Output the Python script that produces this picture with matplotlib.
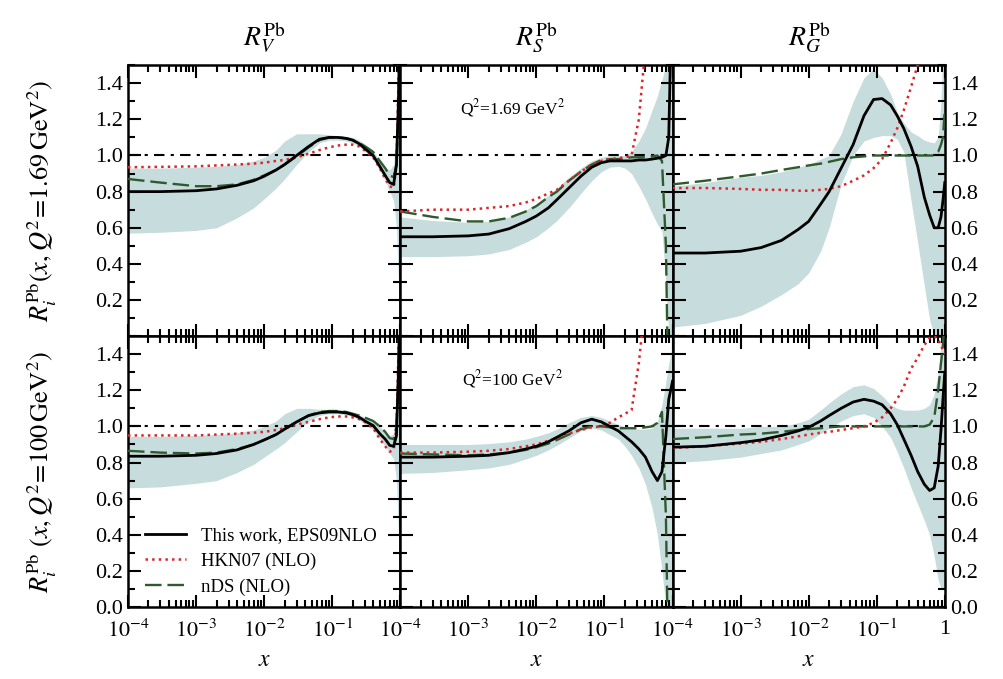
# EPS09 nuclear modification ratios for Pb, comparison with HKN07 and nDS
import numpy as np
import matplotlib
matplotlib.use("Agg")
import matplotlib.pyplot as plt
from matplotlib.ticker import FixedLocator, MultipleLocator, NullFormatter

plt.rcParams['font.family'] = 'serif'
plt.rcParams['font.serif'] = ['Liberation Serif', 'DejaVu Serif']
plt.rcParams['mathtext.fontset'] = 'stix'

x = np.array([1e-4, 3e-4, 1e-3, 2e-3, 4e-3, 7e-3, 0.01, 0.015, 0.02, 0.03, 0.045,
              0.065, 0.09, 0.12, 0.16, 0.2, 0.25, 0.32, 0.4, 0.5, 0.6, 0.7,
              0.8, 0.88, 0.94, 1.0])

titles = [r'$R_V^{\rm Pb}$', r'$R_S^{\rm Pb}$', r'$R_G^{\rm Pb}$']
ylabels = [r'$R_i^{\rm Pb}(x,Q^2\!=\!1.69\,{\rm GeV}^2)$',
           r'$R_i^{\rm Pb}\ (x,Q^2\!=\!100\,{\rm GeV}^2)$']
q2_labels = [r'Q$^2$=1.69 GeV$^2$', r'Q$^2$=100 GeV$^2$']
legend_labels = ['This work, EPS09NLO', 'HKN07 (NLO)', 'nDS (NLO)']

# ---- Q^2 = 1.69 GeV^2 ----
eps_v1 = [0.80, 0.80, 0.805, 0.815, 0.835, 0.86, 0.885, 0.92, 0.95, 1.00, 1.05, 1.09,
          1.10, 1.10, 1.095, 1.085, 1.065, 1.03, 1.0, 0.94, 0.89, 0.85, 0.84, 0.95, 1.3, 1.8]
hkn_v1 = [0.935, 0.937, 0.94, 0.945, 0.95, 0.955, 0.96, 0.97, 0.975, 0.99, 1.01, 1.03,
          1.045, 1.055, 1.06, 1.06, 1.05, 1.02, 0.99, 0.93, 0.87, 0.83, 0.82, 0.95, 1.4, 2.0]
nds_v1 = [0.87, 0.85, 0.83, 0.83, 0.84, 0.865, 0.89, 0.92, 0.95, 0.995, 1.045, 1.085,
          1.10, 1.10, 1.095, 1.085, 1.07, 1.045, 1.02, 0.97, 0.93, 0.89, 0.88, 0.95, 1.25, 1.8]
lo_v1 = [0.57, 0.575, 0.585, 0.60, 0.655, 0.71, 0.76, 0.82, 0.87, 0.95, 1.02, 1.07,
         1.085, 1.085, 1.08, 1.07, 1.05, 1.015, 0.98, 0.92, 0.86, 0.80, 0.75, 0.6, 0.3, 0.0]
hi_v1 = [0.93, 0.93, 0.935, 0.94, 0.95, 0.97, 0.99, 1.03, 1.08, 1.12, 1.12, 1.12,
         1.115, 1.11, 1.105, 1.10, 1.085, 1.055, 1.025, 0.97, 0.93, 0.92, 0.95, 1.2, 1.6, 2.0]

eps_s1 = [0.55, 0.55, 0.555, 0.565, 0.595, 0.635, 0.665, 0.71, 0.755, 0.82, 0.885, 0.935,
          0.96, 0.97, 0.97, 0.97, 0.97, 0.975, 0.975, 0.98, 0.985, 0.99, 1.0, 1.1, 1.6, 2.0]
hkn_s1 = [0.69, 0.70, 0.70, 0.71, 0.72, 0.74, 0.76, 0.79, 0.81, 0.86, 0.91, 0.95,
          0.97, 0.98, 0.985, 0.99, 1.0, 1.2, 1.6, 2.0, 2.0, 2.0, 2.0, 2.0, 2.0, 2.0]
nds_s1 = [0.69, 0.66, 0.635, 0.635, 0.655, 0.69, 0.72, 0.77, 0.80, 0.86, 0.91, 0.95,
          0.975, 0.98, 0.98, 0.985, 0.99, 0.99, 0.99, 0.995, 1.0, 0.97, 0.5, -0.5, -0.5, -0.5]
lo_s1 = [0.44, 0.44, 0.445, 0.455, 0.48, 0.52, 0.55, 0.60, 0.64, 0.71, 0.79, 0.86,
         0.91, 0.935, 0.94, 0.93, 0.90, 0.83, 0.76, 0.68, 0.62, 0.58, 0.3, 0.0, 0.0, 0.0]
hi_s1 = [0.66, 0.64, 0.63, 0.635, 0.66, 0.70, 0.73, 0.78, 0.82, 0.88, 0.93, 0.97,
         0.99, 1.0, 1.0, 1.0, 1.02, 1.08, 1.15, 1.25, 1.33, 1.42, 1.5, 1.6, 1.6, 1.6]

eps_g1 = [0.46, 0.46, 0.47, 0.49, 0.53, 0.59, 0.635, 0.73, 0.80, 0.93, 1.06, 1.22,
          1.31, 1.315, 1.28, 1.22, 1.15, 1.05, 0.94, 0.77, 0.67, 0.60, 0.60, 0.66, 0.75, 0.85]
hkn_g1 = [0.82, 0.82, 0.815, 0.81, 0.81, 0.805, 0.805, 0.81, 0.815, 0.83, 0.86, 0.89,
          0.93, 0.98, 1.07, 1.15, 1.25, 1.38, 1.5, 1.7, 2.0, 2.0, 2.0, 2.0, 2.0, 2.0]
nds_g1 = [0.84, 0.86, 0.885, 0.90, 0.92, 0.935, 0.945, 0.955, 0.965, 0.98, 0.99, 0.995,
          1.0, 1.0, 1.0, 1.0, 1.0, 1.0, 1.0, 1.0, 1.0, 1.0, 1.02, 1.06, 1.1, 1.25]
lo_g1 = [0.05, 0.07, 0.115, 0.165, 0.23, 0.29, 0.35, 0.47, 0.60, 0.84, 1.00, 1.08,
         1.10, 1.11, 1.11, 1.09, 1.02, 0.75, 0.52, 0.28, 0.09, 0.0, 0.0, 0.0, 0.0, 0.0]
hi_g1 = [0.83, 0.85, 0.88, 0.89, 0.91, 0.935, 0.95, 0.98, 1.0, 1.12, 1.30, 1.43,
         1.48, 1.43, 1.34, 1.24, 1.18, 1.13, 1.11, 1.085, 1.075, 1.07, 1.1, 1.3, 1.6, 1.8]

# ---- Q^2 = 100 GeV^2 ----
eps_v2 = [0.835, 0.835, 0.84, 0.85, 0.87, 0.90, 0.925, 0.955, 0.985, 1.025, 1.06, 1.075,
          1.08, 1.08, 1.075, 1.065, 1.05, 1.025, 1.005, 0.96, 0.93, 0.895, 0.89, 0.95, 1.3, 1.8]
hkn_v2 = [0.95, 0.95, 0.95, 0.955, 0.96, 0.965, 0.97, 0.98, 0.99, 1.01, 1.025, 1.04,
          1.05, 1.055, 1.055, 1.05, 1.04, 1.02, 0.99, 0.93, 0.89, 0.86, 0.87, 1.0, 1.4, 2.0]
nds_v2 = [0.865, 0.855, 0.85, 0.855, 0.875, 0.90, 0.925, 0.955, 0.985, 1.025, 1.06, 1.08,
          1.085, 1.085, 1.08, 1.07, 1.06, 1.045, 1.03, 1.0, 0.97, 0.935, 0.93, 1.0, 1.3, 1.8]
lo_v2 = [0.66, 0.665, 0.685, 0.70, 0.745, 0.79, 0.83, 0.875, 0.91, 0.97, 1.03, 1.06,
         1.07, 1.07, 1.065, 1.055, 1.035, 1.005, 0.98, 0.93, 0.89, 0.85, 0.82, 0.7, 0.4, 0.0]
hi_v2 = [0.945, 0.945, 0.95, 0.955, 0.965, 0.98, 1.0, 1.03, 1.07, 1.10, 1.10, 1.095,
         1.095, 1.095, 1.09, 1.08, 1.065, 1.045, 1.03, 1.0, 0.97, 0.95, 0.96, 1.15, 1.5, 1.8]

eps_s2 = [0.83, 0.83, 0.835, 0.84, 0.855, 0.875, 0.89, 0.915, 0.94, 0.975, 1.02, 1.04,
          1.025, 1.0, 0.975, 0.945, 0.915, 0.875, 0.83, 0.75, 0.70, 0.75, 0.95, 1.15, 1.2, 1.25]
hkn_s2 = [0.855, 0.855, 0.86, 0.865, 0.875, 0.89, 0.90, 0.92, 0.935, 0.96, 0.98, 0.995,
          1.0, 1.02, 1.05, 1.07, 1.09, 1.35, 1.7, 2.0, 2.0, 2.0, 2.0, 2.0, 2.0, 2.0]
nds_s2 = [0.85, 0.845, 0.84, 0.845, 0.855, 0.87, 0.885, 0.905, 0.925, 0.955, 0.985, 1.0,
          1.0, 0.995, 0.99, 0.99, 0.99, 0.99, 0.995, 1.0, 1.02, 1.08, 0.5, -0.5, -0.5, -0.5]
lo_s2 = [0.74, 0.745, 0.76, 0.77, 0.79, 0.82, 0.84, 0.87, 0.895, 0.935, 0.975, 0.99,
         0.98, 0.955, 0.93, 0.89, 0.84, 0.77, 0.68, 0.55, 0.40, 0.2, 0.0, 0.0, 0.0, 0.0]
hi_s2 = [0.90, 0.90, 0.90, 0.905, 0.915, 0.93, 0.945, 0.965, 0.985, 1.02, 1.05, 1.06,
         1.05, 1.03, 1.01, 1.0, 0.99, 0.985, 0.985, 0.99, 1.03, 1.12, 1.25, 1.35, 1.4, 1.5]

eps_g2 = [0.885, 0.89, 0.91, 0.925, 0.95, 0.975, 0.995, 1.03, 1.06, 1.10, 1.135, 1.15,
          1.14, 1.12, 1.07, 1.01, 0.93, 0.84, 0.75, 0.68, 0.645, 0.66, 0.78, 0.98, 1.15, 1.3]
hkn_g2 = [0.88, 0.89, 0.905, 0.915, 0.93, 0.945, 0.955, 0.965, 0.97, 0.98, 0.99, 1.0,
          1.02, 1.05, 1.10, 1.15, 1.22, 1.32, 1.38, 1.45, 1.49, 1.5, 1.48, 1.45, 1.42, 1.4]
nds_g2 = [0.93, 0.94, 0.955, 0.96, 0.97, 0.98, 0.985, 0.99, 0.995, 1.0, 1.0, 1.0,
          1.0, 1.0, 1.0, 1.0, 1.0, 1.0, 1.0, 1.0, 1.01, 1.05, 1.2, 1.35, 1.45, 1.6]
lo_g2 = [0.80, 0.81, 0.83, 0.85, 0.87, 0.90, 0.92, 0.96, 0.99, 1.03, 1.06, 1.07,
         1.05, 1.0, 0.94, 0.86, 0.77, 0.66, 0.57, 0.48, 0.40, 0.28, 0.15, 0.1, 0.1, 0.1]
hi_g2 = [0.99, 0.99, 0.99, 1.0, 1.0, 1.02, 1.04, 1.09, 1.13, 1.18, 1.22, 1.23,
         1.21, 1.17, 1.12, 1.10, 1.09, 1.09, 1.09, 1.10, 1.12, 1.18, 1.3, 1.45, 1.5, 1.5]

panels = [
    [(eps_v1, hkn_v1, nds_v1, lo_v1, hi_v1),
     (eps_s1, hkn_s1, nds_s1, lo_s1, hi_s1),
     (eps_g1, hkn_g1, nds_g1, lo_g1, hi_g1)],
    [(eps_v2, hkn_v2, nds_v2, lo_v2, hi_v2),
     (eps_s2, hkn_s2, nds_s2, lo_s2, hi_s2),
     (eps_g2, hkn_g2, nds_g2, lo_g2, hi_g2)],
]

band_color = '#c7dcdc'
red = '#d9262b'
green = '#2f5a2f'

fig, axes = plt.subplots(2, 3, figsize=(10.04, 6.79), dpi=100)
fig.subplots_adjust(left=0.1275, right=0.941, top=0.904, bottom=0.106,
                    wspace=0, hspace=0)

xticks = [1e-4, 1e-3, 1e-2, 1e-1, 1]
xticklabels = [r'$10^{-4}$', r'$10^{-3}$', r'$10^{-2}$', r'$10^{-1}$', '1']
minor_x = [m * 10.0**e for e in range(-4, 0) for m in range(2, 10)]

for r in range(2):
    for c in range(3):
        ax = axes[r, c]
        eps, hkn, nds, lo, hi = panels[r][c]
        ax.fill_between(x, lo, hi, color=band_color, lw=0, zorder=1)
        ax.axhline(1.0, color='black', lw=1.5, ls=(0, (5, 3, 1.5, 3)), zorder=2)
        ax.plot(x, nds, color=green, lw=1.7, ls=(0, (7, 2.5)), zorder=3, label=legend_labels[2])
        ax.plot(x, hkn, color=red, lw=1.8, ls=':', zorder=4, label=legend_labels[1])
        ax.plot(x, eps, color='black', lw=2.0, zorder=5, label=legend_labels[0])

        ax.set_xscale('log')
        ax.set_xlim(1e-4, 1)
        ax.set_ylim(0, 1.5)

        ax.xaxis.set_major_locator(FixedLocator(xticks))
        ax.xaxis.set_minor_locator(FixedLocator(minor_x))
        ax.xaxis.set_minor_formatter(NullFormatter())
        if r == 1:
            labs = list(xticklabels)
            if c < 2:
                labs[-1] = ''
            ax.set_xticklabels(labs)
            ax.set_xlabel(r'$x$', fontsize=17, labelpad=6)
        else:
            ax.set_xticklabels([])

        ax.yaxis.set_major_locator(FixedLocator([0, 0.2, 0.4, 0.6, 0.8, 1.0, 1.2, 1.4]))
        ax.yaxis.set_minor_locator(MultipleLocator(0.1))
        ylabs = ['%.1f' % v for v in [0, 0.2, 0.4, 0.6, 0.8, 1.0, 1.2, 1.4]]
        if r == 0:
            ylabs[0] = ''
        ax.set_yticklabels(ylabs)

        ax.tick_params(which='both', direction='in', top=True, right=True,
                       labelsize=16, width=1.5)
        ax.tick_params(which='major', length=9)
        ax.tick_params(which='minor', length=5)
        ax.tick_params(axis='x', which='major', pad=9)
        if c == 0:
            ax.tick_params(labelleft=True, labelright=False)
        elif c == 1:
            ax.tick_params(labelleft=False, labelright=False)
        else:
            ax.tick_params(labelleft=False, labelright=True)
        for s in ax.spines.values():
            s.set_linewidth(1.8)

        if r == 0:
            ax.set_title(titles[c], fontsize=20, pad=14)
        if c == 0:
            ax.set_ylabel(ylabels[r], fontsize=19, labelpad=26)
        if c == 1:
            ax.text(0.0045, 1.265, q2_labels[r], fontsize=12.5, ha='center', va='center')

h, l = axes[1, 0].get_legend_handles_labels()
axes[1, 0].legend(h[::-1], l[::-1], loc='lower left', frameon=False, fontsize=13.5,
                  handlelength=2.2, labelspacing=0.45, borderaxespad=0.2,
                  bbox_to_anchor=(0.02, 0.0))

fig.savefig('out.png', dpi=100)
